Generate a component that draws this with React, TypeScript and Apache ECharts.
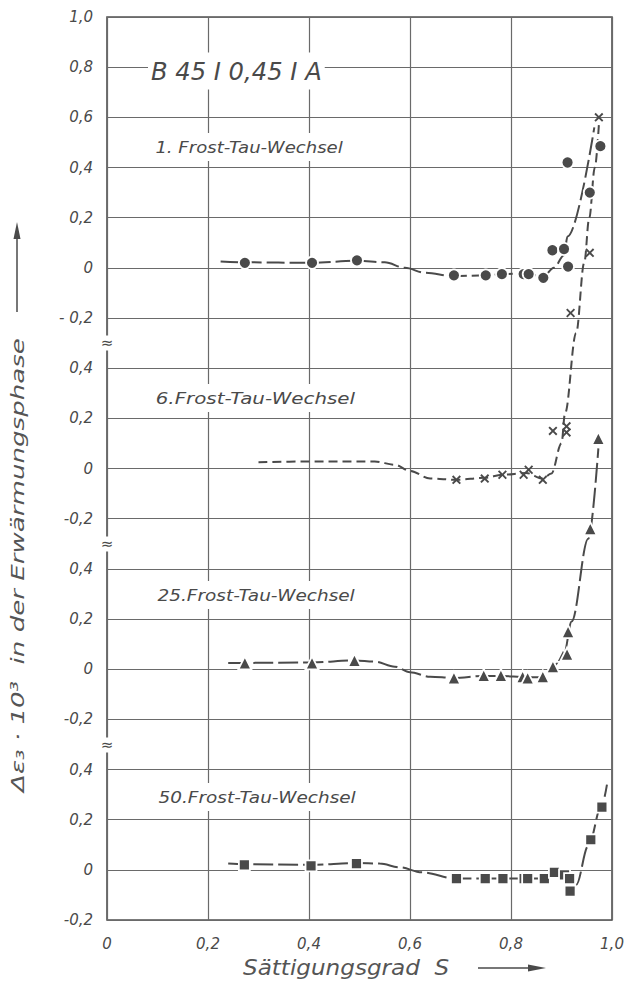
import React, { useEffect, useRef } from "react";
import * as echarts from "echarts";

// ---------- data ----------
const xTickValues = [0, 0.2, 0.4, 0.6, 0.8, 1.0];
const panel1TickValues = [1.0, 0.8, 0.6, 0.4, 0.2, 0, -0.2];
const lowerPanelTickValues = [0.4, 0.2, 0, -0.2];

// 1. Frost-Tau-Wechsel (circles), values on panel-1 scale
const cycle1Points: [number, number][] = [
  [0.273, 0.02], [0.406, 0.02], [0.495, 0.03], [0.687, -0.03], [0.75, -0.03],
  [0.782, -0.025], [0.825, -0.025], [0.835, -0.025], [0.864, -0.04],
  [0.882, 0.07], [0.905, 0.075], [0.913, 0.005], [0.912, 0.42], [0.956, 0.3], [0.977, 0.485],
];
const cycle1Curve: [number, number][] = [
  [0.225, 0.025], [0.273, 0.022], [0.406, 0.02], [0.495, 0.028], [0.55, 0.022],
  [0.59, 0.0], [0.63, -0.02], [0.687, -0.033], [0.75, -0.03], [0.782, -0.025],
  [0.83, -0.022], [0.864, -0.035], [0.885, 0.0], [0.905, 0.05], [0.912, 0.125], [0.965, 0.56],
];

// 6. Frost-Tau-Wechsel (crosses), values on panel-2 scale
const cycle6Points: [number, number][] = [
  [0.692, -0.045], [0.748, -0.04], [0.783, -0.025], [0.825, -0.025], [0.835, -0.005],
  [0.863, -0.045], [0.883, 0.15], [0.91, 0.168], [0.91, 0.144], [0.918, 0.62],
  [0.956, 0.86], [0.974, 1.4],
];
const cycle6Curve: [number, number][] = [
  [0.3, 0.025], [0.4, 0.028], [0.53, 0.028], [0.57, 0.015], [0.6, -0.01], [0.64, -0.04],
  [0.692, -0.045], [0.748, -0.037], [0.783, -0.025], [0.83, -0.018], [0.863, -0.04],
  [0.88, -0.02], [0.9, 0.1], [0.907, 0.22], [0.929, 0.54], [0.945, 0.82], [0.955, 1.0],
  [0.966, 1.2], [0.974, 1.37],
];

// 25. Frost-Tau-Wechsel (triangles), values on panel-3 scale
const cycle25Points: [number, number][] = [
  [0.273, 0.025], [0.406, 0.025], [0.49, 0.035], [0.687, -0.035], [0.746, -0.025],
  [0.78, -0.025], [0.823, -0.03], [0.833, -0.035], [0.863, -0.03], [0.883, 0.01],
  [0.903, 0.055], [0.911, 0.06], [0.913, 0.15], [0.957, 0.56], [0.973, 0.92],
];
const cycle25Curve: [number, number][] = [
  [0.24, 0.025], [0.273, 0.025], [0.406, 0.027], [0.49, 0.035], [0.53, 0.03], [0.57, 0.01],
  [0.6, -0.012], [0.64, -0.03], [0.687, -0.035], [0.746, -0.027], [0.78, -0.027],
  [0.83, -0.032], [0.863, -0.032], [0.883, 0.01], [0.905, 0.06], [0.92, 0.19],
  [0.953, 0.52], [0.973, 0.88],
];

// 50. Frost-Tau-Wechsel (squares), values on panel-4 scale
const cycle50Points: [number, number][] = [
  [0.272, 0.02], [0.404, 0.016], [0.494, 0.025], [0.692, -0.035], [0.749, -0.035],
  [0.784, -0.035], [0.826, -0.035], [0.833, -0.035], [0.866, -0.035], [0.886, -0.01],
  [0.906, -0.02], [0.916, -0.035], [0.917, -0.085], [0.958, 0.12], [0.98, 0.25],
];
const cycle50Curve: [number, number][] = [
  [0.24, 0.025], [0.272, 0.022], [0.404, 0.02], [0.494, 0.027], [0.54, 0.025], [0.58, 0.01],
  [0.623, -0.01], [0.692, -0.035], [0.75, -0.035], [0.83, -0.035], [0.866, -0.035],
  [0.886, -0.015], [0.906, -0.02], [0.917, -0.05], [0.929, -0.06], [0.953, 0.095],
  [0.98, 0.26], [0.99, 0.34],
];

// ---------- styling ----------
const INK = "#4a4a4a";
const GRIDC = "#6a6a6a";
const FONT = '"DejaVu Sans", sans-serif';
const font = (s: number) => `italic ${s}px ${FONT}`;
const CROSS = "path://M1.5,0L5,3.5L8.5,0L10,1.5L6.5,5L10,8.5L8.5,10L5,6.5L1.5,10L0,8.5L3.5,5L0,1.5Z";

function fmt(v: number, spaced: boolean) {
  const r = Math.round(v * 10) / 10;
  if (r === 0) return "0";
  const s = Math.abs(r).toFixed(1).replace(".", ",");
  return r < 0 ? (spaced ? "- " : "-") + s : s;
}
function hasTick(list: number[], v: number) {
  return list.some((t) => Math.abs(t - v) < 1e-6);
}

function yAxisFor(min: number, max: number, ticks: number[], spaced: boolean, main: boolean) {
  return {
    type: "value",
    gridIndex: 0,
    position: "left",
    min,
    max,
    interval: 0.2,
    axisLine: { show: false },
    axisTick: { show: false },
    splitLine: main ? { show: true, lineStyle: { color: GRIDC, width: 1.2 } } : { show: false },
    axisLabel: {
      margin: 14,
      color: INK,
      fontSize: 15,
      fontStyle: "italic",
      fontFamily: FONT,
      formatter: (v: number) => (hasTick(ticks, v) ? fmt(v, spaced) : ""),
    },
  };
}

function curve(data: [number, number][], yIdx: number, dash: number[]) {
  return {
    type: "line",
    yAxisIndex: yIdx,
    data,
    smooth: 0.35,
    smoothMonotone: "x",
    showSymbol: false,
    silent: true,
    z: 2,
    lineStyle: { color: INK, width: 2, type: dash, cap: "butt" },
  };
}
function marks(data: [number, number][], yIdx: number, symbol: string, size: number, halo: number) {
  return {
    type: "scatter",
    yAxisIndex: yIdx,
    data,
    symbol,
    symbolSize: size,
    z: 4,
    itemStyle: { color: INK, borderColor: "#fff", borderWidth: halo, opacity: 1 },
  };
}

function label(text: string, x: number, y: number, size: number, sx: number) {
  return {
    type: "text",
    x,
    y,
    scaleX: sx,
    z: 10,
    style: {
      text,
      font: font(size),
      fill: INK,
      align: "left",
      verticalAlign: "middle",
      backgroundColor: "#fff",
      padding: [6, 3],
    },
  };
}
function approx(y: number) {
  return {
    type: "text",
    x: 107,
    y,
    z: 10,
    style: {
      text: "≈",
      font: `15px ${FONT}`,
      fill: INK,
      align: "center",
      verticalAlign: "middle",
      backgroundColor: "#fff",
    },
  };
}

const option = {
  animation: false,
  backgroundColor: "#fff",
  grid: {
    left: 107,
    right: 20,
    top: 17,
    bottom: 68,
    show: true,
    borderColor: "#505050",
    borderWidth: 1.6,
    containLabel: false,
  },
  xAxis: {
    type: "value",
    min: 0,
    max: 1,
    interval: 0.2,
    axisLine: { show: false },
    axisTick: { show: false },
    splitLine: { show: true, lineStyle: { color: GRIDC, width: 1.2 } },
    axisLabel: {
      margin: 16,
      color: INK,
      fontSize: 15,
      fontStyle: "italic",
      fontFamily: FONT,
      formatter: (v: number) => (hasTick(xTickValues, v) ? fmt(v, false) : ""),
    },
  },
  yAxis: [
    yAxisFor(-2.6, 1.0, panel1TickValues, true, true),
    yAxisFor(-1.8, 1.8, lowerPanelTickValues, false, false),
    yAxisFor(-1.0, 2.6, lowerPanelTickValues, false, false),
    yAxisFor(-0.2, 3.4, lowerPanelTickValues, false, false),
  ],
  series: [
    curve(cycle1Curve, 0, [18, 5]),
    curve(cycle6Curve, 1, [9, 5]),
    curve(cycle25Curve, 2, [20, 5]),
    curve(cycle50Curve, 3, [20, 5]),
    marks(cycle1Points, 0, "circle", 12, 1.8),
    marks(cycle6Points, 1, CROSS, 9, 0),
    marks(cycle25Points, 2, "triangle", 13, 1.8),
    marks(cycle50Points, 3, "rect", 11, 1.8),
  ],
  graphic: [
    label("B 45 I 0,45 I A", 148, 71, 25, 0.97),
    label("1. Frost-Tau-Wechsel", 152, 147, 16, 1.13),
    label("6.Frost-Tau-Wechsel", 152, 398, 16, 1.24),
    label("25.Frost-Tau-Wechsel", 154, 595, 16, 1.155),
    label("50.Frost-Tau-Wechsel", 155, 797, 16, 1.155),
    approx(343),
    approx(544),
    approx(745),
    {
      type: "text",
      x: 18,
      y: 565,
      rotation: Math.PI / 2,
      scaleX: 1.45,
      style: {
        text: "Δε₃ · 10³  in der Erwärmungsphase",
        font: font(18),
        fill: "#555",
        align: "center",
        verticalAlign: "middle",
      },
    },
    {
      type: "line",
      shape: { x1: 17, y1: 312, x2: 17, y2: 236 },
      style: { stroke: INK, lineWidth: 1.5 },
    },
    {
      type: "polygon",
      shape: { points: [[17, 222], [13.5, 239], [20.5, 239]] },
      style: { fill: INK },
    },
    {
      type: "text",
      x: 243,
      y: 968,
      scaleX: 1.1,
      style: {
        text: "Sättigungsgrad  S",
        font: font(21),
        fill: "#555",
        align: "left",
        verticalAlign: "middle",
      },
    },
    {
      type: "line",
      shape: { x1: 478, y1: 968, x2: 530, y2: 968 },
      style: { stroke: INK, lineWidth: 1.5 },
    },
    {
      type: "polygon",
      shape: { points: [[546, 968], [528, 964.5], [528, 971.5]] },
      style: { fill: INK },
    },
  ],
};

export default function App() {
  const ref = useRef<HTMLDivElement>(null);
  useEffect(() => {
    if (!ref.current) return;
    const chart = echarts.init(ref.current, null, { renderer: "svg" });
    chart.setOption(option as any);
    return () => chart.dispose();
  }, []);
  return (
    <div
      ref={ref}
      style={{ position: "fixed", left: 0, top: 0, width: 632, height: 988, background: "#fff" }}
    />
  );
}
